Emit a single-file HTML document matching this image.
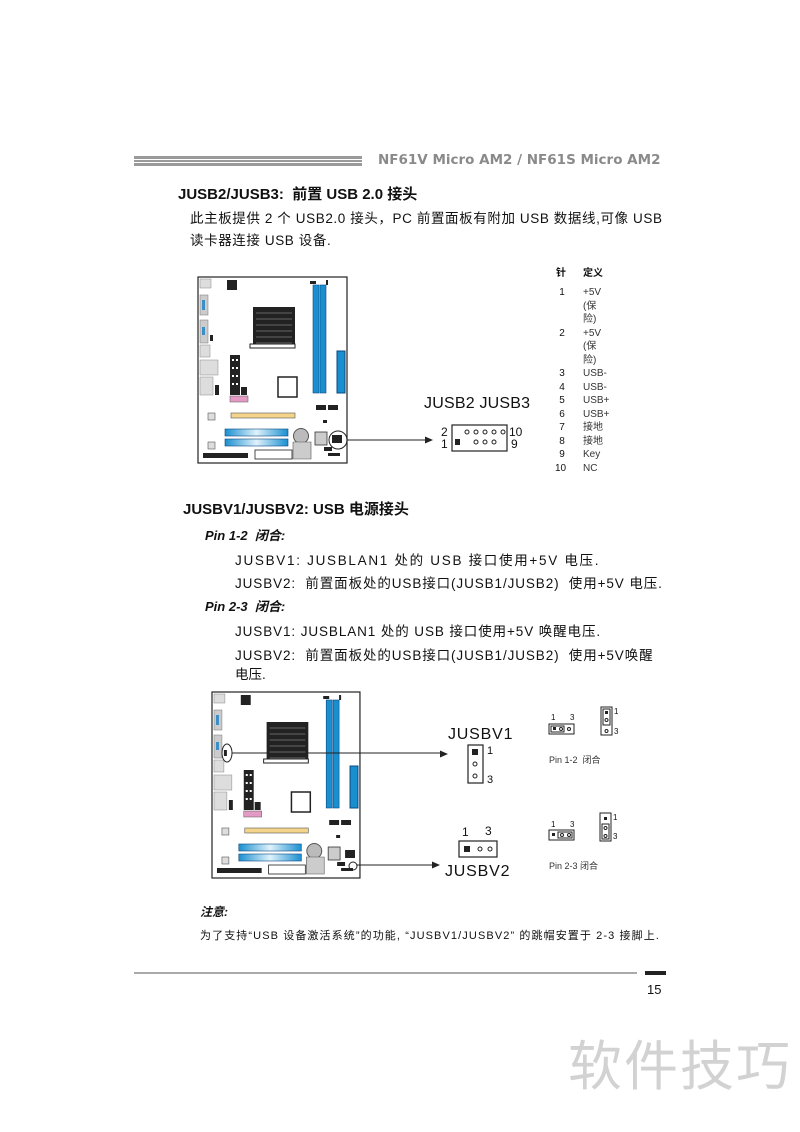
<!DOCTYPE html>
<html><head><meta charset="utf-8"><style>
body{margin:0;width:800px;height:1132px;background:#fff;position:relative;overflow:hidden;font-family:"Liberation Sans","Noto Sans CJK SC",sans-serif;color:#111}
.t{position:absolute;white-space:nowrap;line-height:1}
</style></head><body>
<svg width="800" height="1132" style="position:absolute;left:0;top:0" xmlns="http://www.w3.org/2000/svg">
<defs>
<linearGradient id="bl" x1="0" x2="1"><stop offset="0" stop-color="#1a8fd0"/><stop offset=".5" stop-color="#dff2fb"/><stop offset="1" stop-color="#1a8fd0"/></linearGradient>
<g id="mb">
<rect x="0" y="0" width="149" height="186" fill="#fff" stroke="#222" stroke-width="1.2"/>
<rect x="2" y="2" width="11" height="9" fill="#ddd" stroke="#888" stroke-width=".5"/>
<rect x="2" y="18" width="8" height="20" fill="#ccc" stroke="#777" stroke-width=".5"/><rect x="4" y="23" width="3" height="10" fill="#3a8fc8"/>
<rect x="2" y="43" width="8" height="23" fill="#ccc" stroke="#777" stroke-width=".5"/><rect x="4" y="50" width="3" height="8" fill="#3a8fc8"/>
<rect x="12" y="58" width="3" height="6" fill="#222"/>
<rect x="2" y="68" width="10" height="12" fill="#ddd" stroke="#888" stroke-width=".5"/>
<rect x="2" y="83" width="18" height="15" fill="#ddd" stroke="#888" stroke-width=".5"/>
<rect x="2" y="100" width="13" height="18" fill="#ddd" stroke="#888" stroke-width=".5"/>
<rect x="17" y="108" width="4" height="10" fill="#222"/>
<rect x="29" y="3" width="10" height="10" fill="#222"/>
<rect x="55" y="30" width="42" height="40" fill="#222"/>
<g stroke="#666" stroke-width="1"><path d="M58 36h36M58 42h36M58 48h36M58 54h36M58 60h36M58 66h36"/></g>
<rect x="52" y="67" width="45" height="4" fill="#fff" stroke="#222" stroke-width="1"/>
<rect x="112" y="4" width="6" height="3" fill="#222"/><rect x="128" y="3" width="2" height="5" fill="#222"/>
<rect x="115" y="8" width="6" height="108" fill="#1a8fd0" stroke="#0a4a80" stroke-width=".6"/>
<rect x="122" y="8" width="6" height="108" fill="#1a8fd0" stroke="#0a4a80" stroke-width=".6"/>
<rect x="139" y="74" width="8" height="42" fill="#1a8fd0" stroke="#0a4a80" stroke-width="1"/>
<rect x="32" y="78" width="10" height="40" fill="#222"/>
<g fill="#fff"><rect x="34" y="82" width="2" height="2"/><rect x="38" y="82" width="2" height="2"/><rect x="34" y="90" width="2" height="2"/><rect x="38" y="90" width="2" height="2"/><rect x="34" y="98" width="2" height="2"/><rect x="38" y="98" width="2" height="2"/><rect x="34" y="106" width="2" height="2"/><rect x="38" y="106" width="2" height="2"/></g>
<rect x="43" y="110" width="6" height="8" fill="#222"/>
<rect x="32" y="119" width="18" height="6" fill="#e39bc6" stroke="#555" stroke-width=".5"/>
<rect x="80" y="100" width="19" height="20" fill="#fff" stroke="#222" stroke-width="1.5"/>
<rect x="118" y="128" width="10" height="5" fill="#222"/><rect x="130" y="128" width="10" height="5" fill="#222"/>
<rect x="10" y="136" width="7" height="7" fill="#ddd" stroke="#555" stroke-width=".6"/>
<rect x="33" y="136" width="64" height="5" fill="#f3d48a" stroke="#555" stroke-width=".6"/>
<rect x="125" y="143" width="4" height="3" fill="#222"/>
<rect x="27" y="152" width="63" height="7" fill="url(#bl)" stroke="#0a4a80" stroke-width=".6"/>
<rect x="27" y="162" width="63" height="7" fill="url(#bl)" stroke="#0a4a80" stroke-width=".6"/>
<rect x="10" y="165" width="7" height="7" fill="#ddd" stroke="#555" stroke-width=".6"/>
<circle cx="103" cy="159" r="7.5" fill="#bbb" stroke="#555"/>
<path d="M95 165h18v17h-18z" fill="#ccc" stroke="#555" stroke-width=".6"/>
<rect x="117" y="155" width="12" height="13" fill="#ccc" stroke="#333" stroke-width=".8"/>
<rect x="134" y="158" width="10" height="8" fill="#222"/>
<rect x="126" y="170" width="8" height="4" fill="#222"/>
<rect x="130" y="176" width="12" height="3" fill="#222"/>
<rect x="5" y="176" width="45" height="5" fill="#222"/>
<rect x="57" y="173" width="37" height="9" fill="#fff" stroke="#222" stroke-width=".8"/>
</g>
</defs>
<g fill="#9a9a9a"><rect x="134" y="156" width="228" height="3"/><rect x="134" y="160" width="228" height="2"/><rect x="134" y="163" width="228" height="3"/></g>
<use href="#mb" x="198" y="277"/>
<circle cx="338" cy="440" r="9" fill="none" stroke="#222" stroke-width="1"/>
<line x1="347" y1="440" x2="427" y2="440" stroke="#222"/><path d="M433 440l-8 -3.5v7z" fill="#222"/>
<rect x="452" y="425" width="55" height="26" fill="#fff" stroke="#222" stroke-width="1.2"/>
<g fill="none" stroke="#222" stroke-width="1"><circle cx="467" cy="432" r="2"/><circle cx="476" cy="432" r="2"/><circle cx="485" cy="432" r="2"/><circle cx="494" cy="432" r="2"/><circle cx="503" cy="432" r="2"/><circle cx="476" cy="442" r="2"/><circle cx="485" cy="442" r="2"/><circle cx="494" cy="442" r="2"/></g>
<rect x="455" y="439" width="5" height="6" fill="#222"/>
<g transform="translate(212,692) scale(0.993,1)"><use href="#mb"/></g>
<ellipse cx="227" cy="753" rx="5" ry="9" fill="none" stroke="#222"/>
<line x1="232" y1="753" x2="441" y2="753" stroke="#222"/><path d="M448 754l-8 -3.5v7z" fill="#222"/>
<circle cx="353" cy="866" r="4" fill="none" stroke="#222"/>
<line x1="357" y1="865" x2="433" y2="865" stroke="#222"/><path d="M440 865l-8 -3.5v7z" fill="#222"/>
<rect x="468" y="745" width="15" height="38" fill="#fff" stroke="#222" stroke-width="1.2"/>
<rect x="472" y="749" width="6" height="6" fill="#222"/><circle cx="475" cy="764" r="2" fill="none" stroke="#222"/><circle cx="475" cy="776" r="2" fill="none" stroke="#222"/>
<rect x="459" y="841" width="38" height="16" fill="#fff" stroke="#222" stroke-width="1.2"/>
<rect x="464" y="846" width="6" height="6" fill="#222"/><circle cx="480" cy="849" r="2" fill="none" stroke="#222"/><circle cx="490" cy="849" r="2" fill="none" stroke="#222"/>
<rect x="549" y="724" width="25" height="10" fill="#fff" stroke="#222"/><rect x="551" y="726" width="13" height="6" fill="none" stroke="#222"/><rect x="553" y="727" width="3" height="3" fill="#222"/><circle cx="561" cy="729" r="1.5" fill="none" stroke="#222"/><circle cx="569" cy="729" r="1.5" fill="none" stroke="#222"/>
<rect x="601" y="707" width="11" height="28" fill="#fff" stroke="#222"/><rect x="603" y="709" width="7" height="16" fill="none" stroke="#222"/><rect x="605" y="711" width="3" height="3" fill="#222"/><circle cx="606.5" cy="720" r="1.5" fill="none" stroke="#222"/><circle cx="606.5" cy="731" r="1.5" fill="none" stroke="#222"/>
<rect x="549" y="830" width="25" height="10" fill="#fff" stroke="#222"/><rect x="558" y="832" width="14" height="6" fill="none" stroke="#222"/><rect x="552" y="833" width="3" height="3" fill="#222"/><circle cx="562" cy="835" r="1.5" fill="none" stroke="#222"/><circle cx="569" cy="835" r="1.5" fill="none" stroke="#222"/>
<rect x="600" y="813" width="11" height="28" fill="#fff" stroke="#222"/><rect x="602" y="824" width="7" height="15" fill="none" stroke="#222"/><rect x="604" y="817" width="3" height="3" fill="#222"/><circle cx="605.5" cy="828" r="1.5" fill="none" stroke="#222"/><circle cx="605.5" cy="836" r="1.5" fill="none" stroke="#222"/>
<line x1="134" y1="973" x2="637" y2="973" stroke="#555" stroke-width="1"/>
<rect x="645" y="971" width="21" height="4" fill="#222"/>
</svg>
<div class="t" style="left:378px;top:154px;font-size:13.5px;font-weight:bold;color:#8a8a8a;font-family:'DejaVu Sans',sans-serif">NF61V Micro AM2 / NF61S Micro AM2</div>
<div class="t" style="left:178px;top:187px;font-size:15px;font-weight:bold">JUSB2/JUSB3:&nbsp; 前置 USB 2.0 接头</div>
<div class="t" style="left:190px;top:212px;font-size:13.5px;letter-spacing:0.6px">此主板提供 2 个 USB2.0 接头，PC 前置面板有附加 USB 数据线,可像 USB</div>
<div class="t" style="left:190px;top:234px;font-size:13.5px;letter-spacing:0.6px">读卡器连接 USB 设备.</div>
<div class="t" style="left:556px;top:269px;font-size:10px;font-weight:bold">针</div>
<div class="t" style="left:583px;top:269px;font-size:10px;font-weight:bold">定义</div>
<div class="t" style="left:558px;top:286px;font-size:10px;line-height:13.5px;text-align:center">1<br><br><br>2<br><br><br>3<br>4<br>5<br>6<br>7<br>8<br>9<br><span style="margin-left:-3px">10</span></div>
<div class="t" style="left:583px;top:286px;font-size:10px;line-height:13.5px;color:#333">+5V<br>(保<br>险)<br>+5V<br>(保<br>险)<br>USB-<br>USB-<br>USB+<br>USB+<br>接地<br>接地<br>Key<br>NC</div>
<div class="t" style="left:424px;top:396px;font-size:16px;letter-spacing:0.2px">JUSB2 JUSB3</div>
<div class="t" style="left:441px;top:426px;font-size:12px">2</div>
<div class="t" style="left:441px;top:438px;font-size:12px">1</div>
<div class="t" style="left:509px;top:426px;font-size:12px">10</div>
<div class="t" style="left:511px;top:438px;font-size:12px">9</div>
<div class="t" style="left:183px;top:502px;font-size:15px;font-weight:bold">JUSBV1/JUSBV2: USB 电源接头</div>
<div class="t" style="left:205px;top:529px;font-size:13px;font-weight:bold;font-style:italic">Pin 1-2&nbsp; 闭合:</div>
<div class="t" style="left:235px;top:554px;font-size:13.5px;letter-spacing:1.7px">JUSBV1: JUSBLAN1 处的 USB 接口使用+5V 电压.</div>
<div class="t" style="left:235px;top:577px;font-size:13.5px;letter-spacing:0.9px">JUSBV2:&nbsp; 前置面板处的USB接口(JUSB1/JUSB2)&nbsp; 使用+5V 电压.</div>
<div class="t" style="left:205px;top:600px;font-size:13px;font-weight:bold;font-style:italic">Pin 2-3&nbsp; 闭合:</div>
<div class="t" style="left:235px;top:625px;font-size:13.5px;letter-spacing:0.9px">JUSBV1: JUSBLAN1 处的 USB 接口使用+5V 唤醒电压.</div>
<div class="t" style="left:235px;top:649px;font-size:13.5px;letter-spacing:0.9px">JUSBV2:&nbsp; 前置面板处的USB接口(JUSB1/JUSB2)&nbsp; 使用+5V唤醒</div>
<div class="t" style="left:235px;top:668px;font-size:13.5px">电压.</div>
<div class="t" style="left:448px;top:727px;font-size:16px;letter-spacing:0.8px">JUSBV1</div>
<div class="t" style="left:487px;top:746px;font-size:11px">1</div>
<div class="t" style="left:487px;top:775px;font-size:11px">3</div>
<div class="t" style="left:462px;top:826px;font-size:12px">1</div>
<div class="t" style="left:485px;top:825px;font-size:12px">3</div>
<div class="t" style="left:445px;top:864px;font-size:16px;letter-spacing:0.8px">JUSBV2</div>
<div class="t" style="left:551px;top:714px;font-size:8px">1</div><div class="t" style="left:570px;top:714px;font-size:8px">3</div>
<div class="t" style="left:614px;top:708px;font-size:8px">1</div><div class="t" style="left:614px;top:728px;font-size:8px">3</div>
<div class="t" style="left:549px;top:756px;font-size:9px;color:#333">Pin 1-2&nbsp; 闭合</div>
<div class="t" style="left:551px;top:821px;font-size:8px">1</div><div class="t" style="left:570px;top:821px;font-size:8px">3</div>
<div class="t" style="left:613px;top:814px;font-size:8px">1</div><div class="t" style="left:613px;top:833px;font-size:8px">3</div>
<div class="t" style="left:549px;top:862px;font-size:9px;color:#333">Pin 2-3 闭合</div>
<div class="t" style="left:200px;top:906px;font-size:12px;font-weight:bold;font-style:italic">注意:</div>
<div class="t" style="left:200px;top:931px;font-size:11px;letter-spacing:1.1px">为了支持“USB 设备激活系统”的功能, “JUSBV1/JUSBV2” 的跳帽安置于 2-3 接脚上.</div>
<div class="t" style="left:647px;top:983px;font-size:13px">15</div>
<div class="t" style="left:568px;top:1040px;font-size:54px;color:#d2d2d2;letter-spacing:2px">软件技巧</div>
</body></html>
